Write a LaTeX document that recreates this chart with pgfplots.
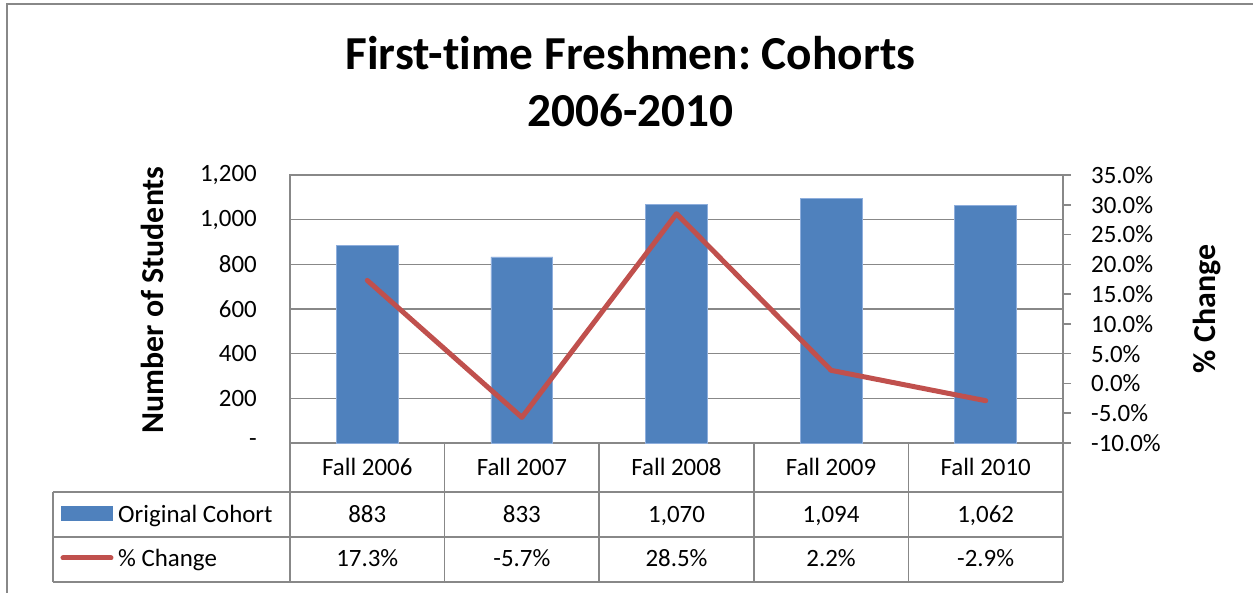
\documentclass[border=0pt]{standalone}
\usepackage{pgfplots}
\pgfplotsset{compat=1.18}
\usepackage{fontspec}
\setmainfont{Carlito}[Ligatures=NoCommon]
\definecolor{barblue}{HTML}{4F81BD}
\definecolor{baredge}{HTML}{8EAEDC}
\definecolor{linered}{HTML}{C0504D}
\definecolor{gridgray}{HTML}{888888}
\frenchspacing
\begin{document}
\begin{tikzpicture}[x=1bp,y=1bp]
\useasboundingbox (-290,-150) rectangle (963,443);
\draw[gridgray, line width=1.5bp] (-283,-151) -- (-283,439) -- (964,439);
% title
\node[anchor=base, font=\bfseries\fontsize{47.5}{57}\selectfont] at (340.5,373) {First-time Freshmen: Cohorts};
\node[anchor=base, font=\bfseries\fontsize{47.5}{57}\selectfont] at (340.5,316) {2006-2010};
% axis titles
\node[rotate=90, font=\bfseries\fontsize{32}{38}\selectfont] at (-138,143) {Number of Students};
\node[rotate=90, font=\bfseries\fontsize{32}{38}\selectfont] at (917,134) {\% Change};
\begin{axis}[
  at={(0,0)}, anchor=south west,
  scale only axis, width=773bp, height=268bp,
  xmin=-0.5, xmax=4.5, ymin=0, ymax=1200,
  axis line style={gridgray, line width=1.5bp},
  ymajorgrids, grid style={gridgray, line width=1.5bp},
  xtick=\empty,
  ytick={0,200,400,600,800,1000,1200},
  yticklabels={-,200,400,600,800,{1,000},{1,200}},
  major tick length=0pt,
  yticklabel style={font=\fontsize{25}{30}\selectfont, inner sep=0pt, anchor=east, xshift=-33bp},
  ybar, bar width=0.4,
  clip=false,
]
\addplot[fill=barblue, draw=baredge, line width=0.8bp] coordinates {(0,883) (1,833) (2,1070) (3,1094) (4,1062)};
\end{axis}
\begin{axis}[
  at={(0,0)}, anchor=south west,
  scale only axis, width=773bp, height=268bp,
  xmin=-0.5, xmax=4.5, ymin=-10, ymax=35,
  axis x line=none, axis y line*=right,
  axis line style={gridgray, line width=1.5bp, -},
  ytick={-10,-5,0,5,10,15,20,25,30,35},
  yticklabels={-10.0\%,-5.0\%,0.0\%,5.0\%,10.0\%,15.0\%,20.0\%,25.0\%,30.0\%,35.0\%},
  tick align=outside, major tick length=8bp,
  tick style={gridgray, line width=1.5bp},
  yticklabel style={font=\fontsize{25}{30}\selectfont, inner sep=0pt, anchor=west, xshift=20bp},
  clip=false,
]
\addplot[linered, line width=5bp, line cap=round, line join=round] coordinates {(0,17.3) (1,-5.7) (2,28.5) (3,2.2) (4,-2.9)};
\end{axis}
% data table
\begin{scope}[gridgray, line width=1.5bp]
\draw (-237,-49) -- (773,-49);
\draw (-237,-94) -- (773,-94);
\draw (-237,-139) -- (773,-139);
\draw (-237,-49) -- (-237,-139);
\foreach \xx in {0,154.6,309.2,463.8,618.4,773} {\draw (\xx,0) -- (\xx,-139);}
\end{scope}
\fill[barblue] (-229,-63) rectangle (-177,-78);
\draw[linered, line width=5bp, line cap=round] (-227,-115) -- (-179,-115);
\begin{scope}[font=\fontsize{25}{30}\selectfont]
\node[anchor=base west, inner sep=0pt] at (-172,-80) {Original Cohort};
\node[anchor=base west, inner sep=0pt] at (-172,-124) {\% Change};
\foreach \c/\a/\b/\d [count=\i from 0] in {Fall 2006/883/17.3\%/x, Fall 2007/833/-5.7\%/x, Fall 2008/{1,070}/28.5\%/x, Fall 2009/{1,094}/2.2\%/x, Fall 2010/{1,062}/-2.9\%/x} {
  \node[anchor=base, inner sep=0pt] at (77.3+154.6*\i,-33) {\c};
  \node[anchor=base, inner sep=0pt] at (77.3+154.6*\i,-80) {\a};
  \node[anchor=base, inner sep=0pt] at (77.3+154.6*\i,-124) {\b};
}
\end{scope}
\end{tikzpicture}
\end{document}
